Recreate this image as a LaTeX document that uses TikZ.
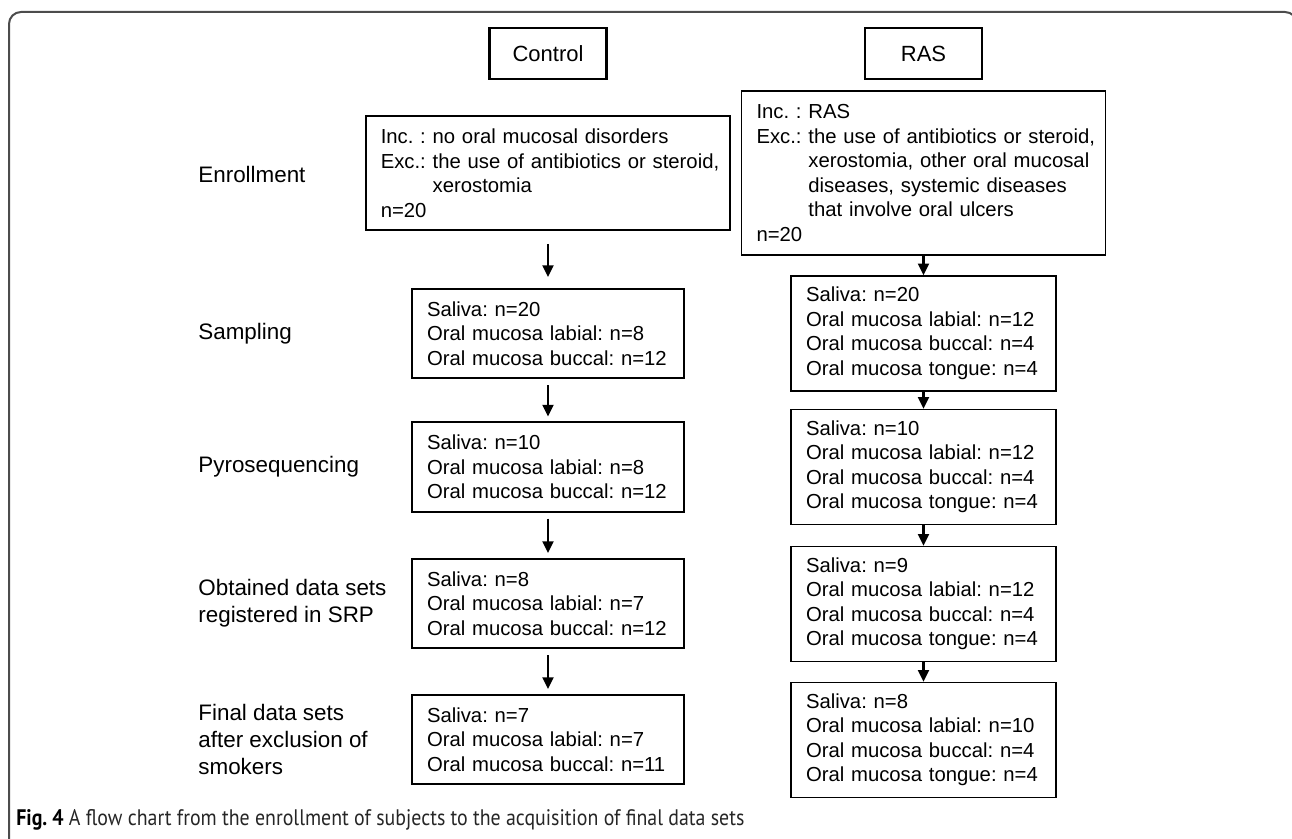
\documentclass[tikz,border=0pt]{standalone}
\usepackage{fontspec}
\setmainfont{Liberation Sans}
\newfontfamily\capfont{PT Sans}
\frenchspacing
\usetikzlibrary{arrows.meta}
\usetikzlibrary{positioning}

\tikzset{
  head/.style={draw, line width=1.1pt, minimum width=58.5pt, minimum height=25.5pt,
    inner sep=0pt, font=\fontsize{11}{13.5}\selectfont},
  boxC/.style={draw, line width=0.8pt, text width=121pt, inner xsep=7.5pt, inner ysep=0pt,
    minimum height=44.75pt, align=left, font=\fontsize{10.15}{12.25}\selectfont},
  boxR/.style={boxC, text width=117.5pt, minimum height=57.5pt},
  stage/.style={anchor=west, align=left, inner sep=0pt, font=\fontsize{11.2}{13.5}\selectfont},
  flow/.style={-{Triangle[width=5.4pt,length=5.8pt]}, line width=1.2pt},
  frame/.style={black!70, line width=1pt, rounded corners=6pt},
}

\begin{document}
\begin{tikzpicture}[x=0.5pt, y=-0.5pt]
  \useasboundingbox (0,0) rectangle (1292,839);
  \clip (0,0) rectangle (1292,839);
  % outer frame
  \draw[frame] (9,860) -- (9,12) -- (1297,12) -- (1297,860);

  % group headers
  \node[head] (hC) at (548,53.5) {Control};
  \node[head] (hR) at (923.5,53.5) {RAS};

  % enrollment
  \node[boxC, text width=167.25pt, minimum height=57pt] (enrC) at (548,173)
    {\mbox{Inc. : no oral mucosal disorders}\\
     \mbox{Exc.: the use of antibiotics or steroid,}\\
     \hphantom{Exc.:\ }xerostomia\\
     n=20};
  \node[boxC, text width=167pt, minimum height=82pt] (enrR) at (923.5,173)
    {Inc. : RAS\\
     \mbox{Exc.: the use of antibiotics or steroid,}\\
     \mbox{\hphantom{Exc.:\ }xerostomia, other oral mucosal}\\
     \mbox{\hphantom{Exc.:\ }diseases, systemic diseases}\\
     \mbox{\hphantom{Exc.:\ }that involve oral ulcers}\\
     n=20};

  % control column
  \node[boxC] (sampC) at (548,333.5)
    {Saliva: n=20\\Oral mucosa labial: n=8\\Oral mucosa buccal: n=12};
  \node[boxC] (pyroC) at (548,467)
    {Saliva: n=10\\Oral mucosa labial: n=8\\Oral mucosa buccal: n=12};
  \node[boxC] (dataC) at (548,603.5)
    {Saliva: n=8\\Oral mucosa labial: n=7\\Oral mucosa buccal: n=12};
  \node[boxC] (finC) at (548,739.5)
    {Saliva: n=7\\Oral mucosa labial: n=7\\Oral mucosa buccal: n=11};

  % RAS column
  \node[boxR] (sampR) at (923.5,333.5)
    {Saliva: n=20\\Oral mucosa labial: n=12\\Oral mucosa buccal: n=4\\Oral mucosa tongue: n=4};
  \node[boxR] (pyroR) at (923.5,467)
    {Saliva: n=10\\Oral mucosa labial: n=12\\Oral mucosa buccal: n=4\\Oral mucosa tongue: n=4};
  \node[boxR] (dataR) at (923.5,604)
    {Saliva: n=9\\Oral mucosa labial: n=12\\Oral mucosa buccal: n=4\\Oral mucosa tongue: n=4};
  \node[boxR] (finR) at (923.5,740)
    {Saliva: n=8\\Oral mucosa labial: n=10\\Oral mucosa buccal: n=4\\Oral mucosa tongue: n=4};

  % stage labels
  \node[stage] (lenr) at (198,174) {Enrollment};
  \node[stage] (lsamp) at (198,333.5) {Sampling};
  \node[stage] (lpyro) at (198,467) {Pyrosequencing};
  \node[stage] (ldata) at (198,603.5) {Obtained data sets\\registered in SRP};
  \node[stage] (lfin) at (198,739.5) {Final data sets\\after exclusion of\\smokers};

  % arrows
  \draw[flow, shorten <=6.5pt, shorten >=5.5pt] (enrC) -- (sampC);
  \draw[flow, shorten <=3pt, shorten >=2.5pt] (sampC) -- (pyroC);
  \draw[flow, shorten <=3pt, shorten >=2.5pt] (pyroC) -- (dataC);
  \draw[flow, shorten <=3pt, shorten >=2.5pt] (dataC) -- (finC);
  \draw[flow] (enrR) -- (sampR);
  \draw[flow] (sampR) -- (pyroR);
  \draw[flow] (pyroR) -- (dataR);
  \draw[flow] (dataR) -- (finR);

  % caption
  \node[anchor=base west, inner sep=0pt] (cap) at (16,825)
    {\resizebox{364pt}{8pt}{\capfont\textbf{Fig. 4} \color{black!85}A flow chart from the enrollment of subjects to the acquisition of final data sets}};
\end{tikzpicture}
\end{document}
